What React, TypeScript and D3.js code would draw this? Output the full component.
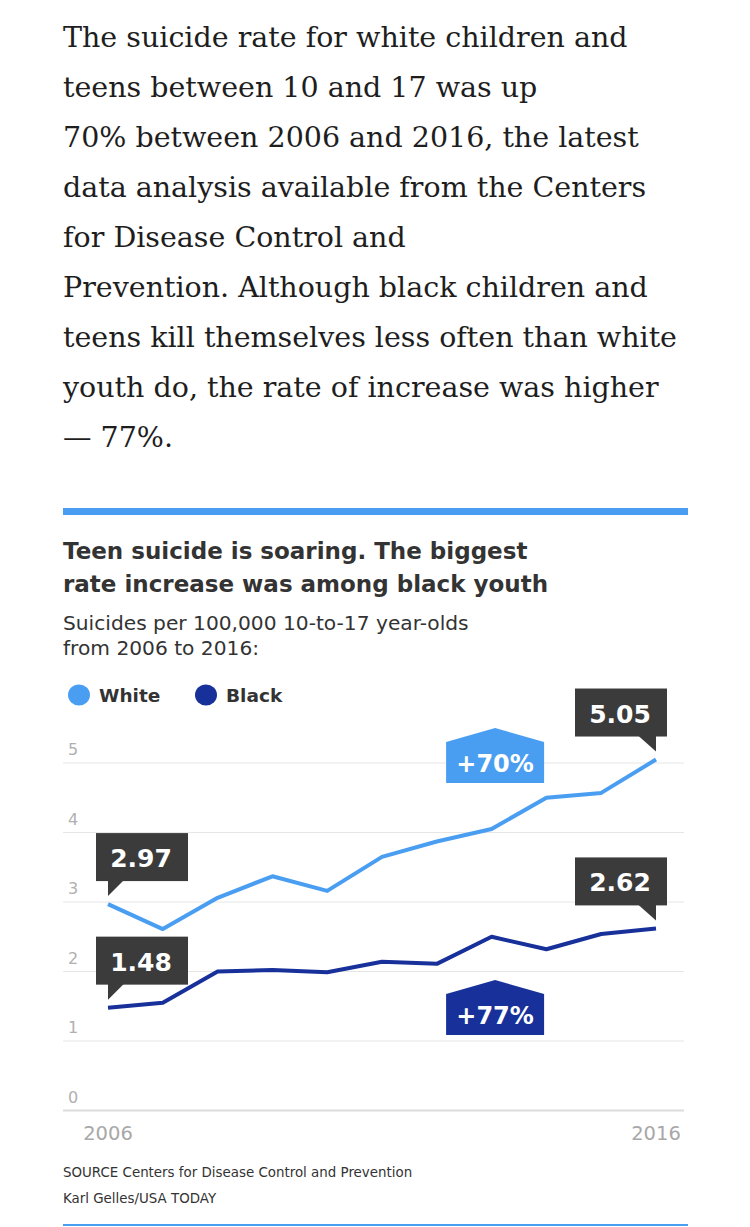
import React from "react";
import * as d3 from "d3";

const introLines = [
  "The suicide rate for white children and",
  "teens between 10 and 17 was up",
  "70% between 2006 and 2016, the latest",
  "data analysis available from the Centers",
  "for Disease Control and",
  "Prevention. Although black children and",
  "teens kill themselves less often than white",
  "youth do, the rate of increase was higher",
  "— 77%.",
];
const titleLines = ["Teen suicide is soaring. The biggest", "rate increase was among black youth"];
const subtitleLines = ["Suicides per 100,000 10-to-17 year-olds", "from 2006 to 2016:"];
const sourceLines = ["SOURCE Centers for Disease Control and Prevention", "Karl Gelles/USA TODAY"];

const years = [2006, 2007, 2008, 2009, 2010, 2011, 2012, 2013, 2014, 2015, 2016];
const whiteRates = [2.97, 2.61, 3.06, 3.37, 3.16, 3.65, 3.87, 4.05, 4.5, 4.57, 5.05];
const blackRates = [1.48, 1.55, 2.0, 2.02, 1.99, 2.14, 2.11, 2.5, 2.32, 2.54, 2.62];
const yTicks = [0, 1, 2, 3, 4, 5];
const xTickYears = [2006, 2016];
const seriesNames = ["White", "Black"];
const increaseLabels = ["+70%", "+77%"];

const WHITE_COLOR = "#4a9ef2";
const BLACK_COLOR = "#18309a";
const CALLOUT_COLOR = "#3b3b3b";
const SANS = "'DejaVu Sans', sans-serif";
const NUM = "'DejaVu Sans', sans-serif";

export default function App() {
  const W = 750;
  const H = 1227;
  const left = 63;
  const right = 688;
  const x = d3.scaleLinear().domain([2006, 2016]).range([108, 656]);
  const y = d3.scaleLinear().domain([0, 5]).range([1110.5, 763]);

  const whiteData = years.map((yr, i) => ({ yr, v: whiteRates[i] }));
  const blackData = years.map((yr, i) => ({ yr, v: blackRates[i] }));
  const line = d3
    .line<{ yr: number; v: number }>()
    .x((d) => x(d.yr))
    .y((d) => y(d.v));

  const callouts = [
    { yr: years[0], v: whiteRates[0], side: "left" },
    { yr: years[0], v: blackRates[0], side: "left" },
    { yr: years[10], v: whiteRates[10], side: "right" },
    { yr: years[10], v: blackRates[10], side: "right" },
  ];

  const renderCallout = (c: { yr: number; v: number; side: string }, i: number) => {
    const px = x(c.yr);
    const py = y(c.v);
    const bw = 92;
    const bh = 48;
    const bottom = py - 23;
    const top = bottom - bh;
    const bx = c.side === "left" ? px - 12 : px + 11 - bw;
    const tail =
      c.side === "left"
        ? `M${px},${bottom - 1} L${px + 16},${bottom - 1} L${px},${bottom + 15} Z`
        : `M${px},${bottom - 1} L${px - 18},${bottom - 1} L${px},${bottom + 15} Z`;
    return (
      <g key={"c" + i}>
        <rect x={bx} y={top} width={bw} height={bh} fill={CALLOUT_COLOR} />
        <path d={tail} fill={CALLOUT_COLOR} />
        <text
          x={bx + bw / 2 - 1}
          y={top + 34}
          textAnchor="middle"
          fill="#fff"
          fontFamily={NUM}
          fontWeight="bold"
          fontSize={25}
        >
          {c.v.toFixed(2)}
        </text>
      </g>
    );
  };

  const badges = [
    { label: increaseLabels[0], color: WHITE_COLOR, bottom: 783 },
    { label: increaseLabels[1], color: BLACK_COLOR, bottom: 1035 },
  ];

  const renderBadge = (b: { label: string; color: string; bottom: number }, i: number) => {
    const cx = x(2013) + 3.5;
    const half = 49;
    const body = 41;
    const roof = 14;
    const sh = b.bottom - body;
    const d = `M${cx - half},${b.bottom} L${cx - half},${sh} L${cx},${sh - roof} L${cx + half},${sh} L${cx + half},${b.bottom} Z`;
    return (
      <g key={"b" + i}>
        <path d={d} fill={b.color} />
        <text
          x={cx}
          y={b.bottom - 11}
          textAnchor="middle"
          fill="#fff"
          fontFamily={NUM}
          fontWeight="bold"
          fontSize={24}
        >
          {b.label}
        </text>
      </g>
    );
  };

  return (
    <svg
      width={W}
      height={H}
      viewBox={`0 0 ${W} ${H}`}
      style={{ position: "absolute", left: 0, top: 0, background: "#fff" }}
    >
      <rect x={0} y={0} width={W} height={H} fill="#fff" />
      {introLines.map((t, i) => (
        <text
          key={"p" + i}
          x={63}
          y={47 + i * 50}
          fontFamily="'DejaVu Serif', serif"
          fontSize={28.5}
          fill="#1e1e1e"
        >
          {t}
        </text>
      ))}

      <rect x={left} y={508} width={right - left} height={7} fill={WHITE_COLOR} />

      {titleLines.map((t, i) => (
        <text
          key={"t" + i}
          x={63}
          y={559 + i * 33}
          fontFamily={SANS}
          fontWeight="bold"
          fontSize={23}
          fill="#333"
        >
          {t}
        </text>
      ))}
      {subtitleLines.map((t, i) => (
        <text key={"s" + i} x={63} y={630 + i * 25} fontFamily={SANS} fontSize={20.2} fill="#333">
          {t}
        </text>
      ))}

      {/* legend */}
      {seriesNames.map((n, i) => {
        const lx = i === 0 ? 79 : 206;
        return (
          <g key={"l" + i}>
            <ellipse cx={lx} cy={695} rx={11} ry={10.5} fill={i === 0 ? WHITE_COLOR : BLACK_COLOR} />
            <text x={lx + 20} y={702} fontFamily={SANS} fontWeight="bold" fontSize={18.5} fill="#333">
              {n}
            </text>
          </g>
        );
      })}

      {/* grid */}
      {yTicks.map((t) => (
        <g key={"g" + t}>
          <line
            x1={left}
            x2={684}
            y1={y(t)}
            y2={y(t)}
            stroke={t === 0 ? "#dcdcdc" : "#e6e6e6"}
            strokeWidth={t === 0 ? 2 : 1}
          />
          <text x={68} y={y(t) - 8} fontFamily={SANS} fontSize={16} fill="#b0b0b0">
            {t}
          </text>
        </g>
      ))}
      {xTickYears.map((yr) => (
        <text
          key={"x" + yr}
          x={x(yr)}
          y={1140}
          textAnchor="middle"
          fontFamily={SANS}
          fontSize={19.5}
          fill="#a8a8a8"
        >
          {yr}
        </text>
      ))}

      <path d={line(whiteData) || ""} fill="none" stroke={WHITE_COLOR} strokeWidth={4} strokeLinejoin="round" />
      <path d={line(blackData) || ""} fill="none" stroke={BLACK_COLOR} strokeWidth={4} strokeLinejoin="round" />

      {badges.map(renderBadge)}
      {callouts.map(renderCallout)}

      {sourceLines.map((t, i) => (
        <text key={"src" + i} x={63} y={1177 + i * 26} fontFamily={SANS} fontSize={13.4} fill="#333">
          {t}
        </text>
      ))}
      <rect x={left} y={1224} width={right - left} height={2} fill={WHITE_COLOR} />
    </svg>
  );
}
